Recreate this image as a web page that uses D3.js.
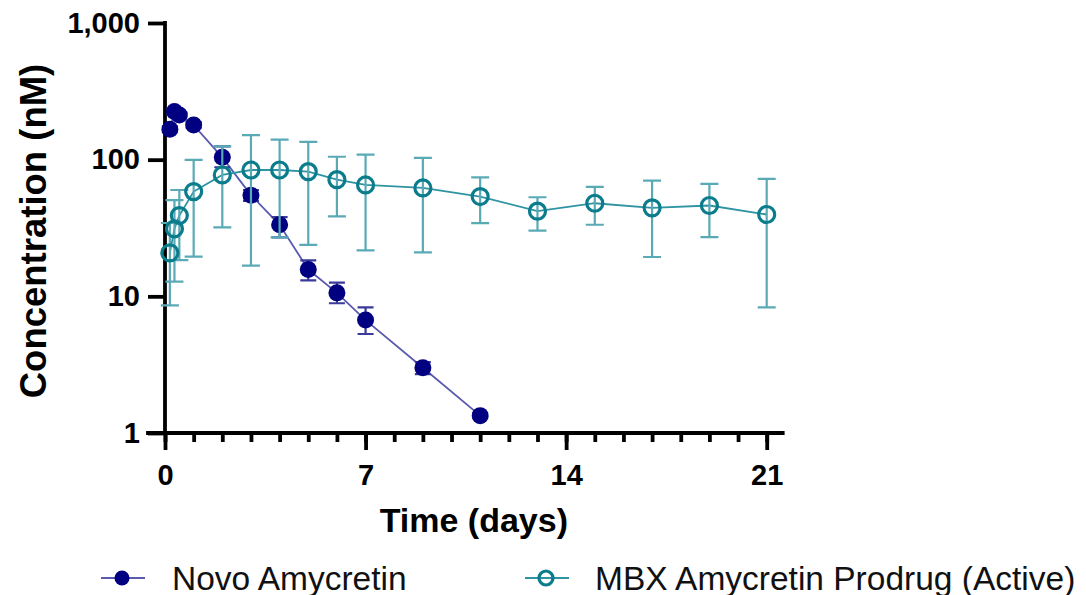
<!DOCTYPE html>
<html>
<head>
<meta charset="utf-8">
<script src="https://cdn.jsdelivr.net/npm/d3@7"></script>
<style>
  body { margin: 0; background: #fff; }
  svg { display: block; }
  text { font-family: "Liberation Sans", Arial, sans-serif; }
</style>
</head>
<body>
<div id="chart"></div>
<script>
//-- Data
var novo_name = 'Novo Amycretin';
var novo_day  = [0.17, 0.33, 0.5, 1, 2, 3, 4, 5, 6, 7, 9, 11];
var novo_mean = [167, 225, 212, 179, 104, 55, 33.4, 15.7, 10.6, 6.7, 3.0, 1.34];
var novo_lo   = [160, 215, 205, 170, 88, 50, 27, 13.1, 8.9, 5.3, 2.7, 1.3];
var novo_hi   = [175, 235, 220, 188, 125, 60, 38, 18.3, 12.6, 8.3, 3.3, 1.4];

var mbx_name = 'MBX Amycretin Prodrug (Active)';
var mbx_day  = [0.17, 0.33, 0.5, 1, 2, 3, 4, 5, 6, 7, 9, 11, 13, 15, 17, 19, 21];
var mbx_mean = [20.8, 31.2, 39, 58.4, 77.3, 84, 84, 81.7, 71.4, 65.3, 62.1, 53.7, 42, 48, 44.4, 46.2, 39.7];
var mbx_lo   = [8.6, 12.8, 18.4, 19.5, 32, 16.8, 27, 23.8, 38.4, 21.7, 21, 34.3, 30.3, 33.4, 19.4, 27.1, 8.3];
var mbx_hi   = [34.4, 50.6, 60, 99.6, 125, 151, 140, 135, 105, 109, 103, 74.3, 53.1, 63.3, 70.3, 66.5, 72.3];

var x_major = [0, 7, 14, 21];
var x_minor = d3.range(0, 22);
var y_ticks = [1, 10, 100, 1000];
var x_title = 'Time (days)';
var y_title = 'Concentration (nM)';

function PK_Make_Canvas(wrap) {
  var tot_width = 1086;
  var tot_height = 595;
  var margin = {left: 165, right: 319, top: 23, bottom: 162};

  var svg = d3.select(wrap.id)
    .append("svg")
      .attr("width", tot_width)
      .attr("height", tot_height)
      .attr("viewBox", "0 0 " + tot_width + " " + tot_height);

  svg.append("rect")
    .attr("width", tot_width)
    .attr("height", tot_height)
    .attr("fill", "white");

  wrap.svg = svg;
  wrap.margin = margin;
  wrap.width = tot_width - margin.left - margin.right;
  wrap.height = tot_height - margin.top - margin.bottom;
  wrap.tot_width = tot_width;
  wrap.tot_height = tot_height;
}

function PK_Format_Data(day, mean, lo, hi) {
  var out = [];
  for (var i=0; i<day.length; i++) {
    out.push({day: day[i], mean: mean[i], lo: lo[i], hi: hi[i]});
  }
  return out;
}

function PK_Draw_Series(wrap, data, style) {
  var x = wrap.x, y = wrap.y;
  var g = wrap.svg.append("g");

  //-- Connecting line
  g.append("path")
    .datum(data)
    .attr("fill", "none")
    .attr("stroke", style.line)
    .attr("stroke-width", 1.8)
    .attr("d", d3.line()
      .x(function (d) {return x(d.day);})
      .y(function (d) {return y(d.mean);}));

  //-- Error bars
  g.selectAll(".ebar")
    .data(data)
    .enter()
    .append("path")
      .attr("class", "ebar")
      .attr("fill", "none")
      .attr("stroke", style.err)
      .attr("stroke-width", 2.2)
      .attr("d", function (d) {
        var cx = x(d.day), c = style.cap;
        return "M" + cx + "," + y(d.lo) + "V" + y(d.hi)
          + "M" + (cx-c) + "," + y(d.hi) + "H" + (cx+c)
          + "M" + (cx-c) + "," + y(d.lo) + "H" + (cx+c);
      });

  //-- Markers
  g.selectAll(".marker")
    .data(data)
    .enter()
    .append("circle")
      .attr("class", "marker")
      .attr("cx", function (d) {return x(d.day);})
      .attr("cy", function (d) {return y(d.mean);})
      .attr("r", style.r)
      .attr("fill", style.fill)
      .attr("stroke", style.stroke)
      .attr("stroke-width", style.sw);
}

function PK_initialize(wrap) {
  var m = wrap.margin;

  var x = d3.scaleLinear()
    .domain([0, 21])
    .range([m.left, m.left + 601.7]);

  var y = d3.scaleLog()
    .domain([1, 1000])
    .range([m.top + wrap.height, m.top]);

  wrap.x = x;
  wrap.y = y;

  var ax_w = 3.8;
  var y0 = y(1);

  //-- x-axis minor ticks
  wrap.svg.append("g")
    .attr("transform", "translate(0," + y0 + ")")
    .call(d3.axisBottom(x).tickValues(x_minor).tickSize(9).tickFormat(""))
    .call(function (g) {g.select(".domain").remove();})
    .selectAll("line")
      .attr("stroke", "#000")
      .attr("stroke-width", ax_w);

  //-- x-axis major ticks + labels
  var xa = wrap.svg.append("g")
    .attr("transform", "translate(0," + y0 + ")")
    .call(d3.axisBottom(x).tickValues(x_major).tickSize(17).tickPadding(14).tickFormat(d3.format("d")));
  xa.select(".domain").remove();
  xa.selectAll("line").attr("stroke", "#000").attr("stroke-width", ax_w);
  xa.selectAll("text")
    .attr("fill", "#000")
    .style("font-size", "29px")
    .style("font-weight", "bold");

  //-- x-axis line
  wrap.svg.append("line")
    .attr("x1", x(0) - 17)
    .attr("x2", x(21) + 16)
    .attr("y1", y0)
    .attr("y2", y0)
    .attr("stroke", "#000")
    .attr("stroke-width", ax_w)
    .attr("stroke-linecap", "square");

  //-- y-axis
  var ya = wrap.svg.append("g")
    .attr("transform", "translate(" + x(0) + ",0)")
    .call(d3.axisLeft(y).tickValues(y_ticks).tickSize(17).tickPadding(8).tickFormat(d3.format(",")));
  ya.select(".domain")
    .attr("d", "M0," + y(1000) + "V" + y0)
    .attr("stroke", "#000")
    .attr("stroke-width", ax_w)
    .attr("stroke-linecap", "square");
  ya.selectAll("line").attr("stroke", "#000").attr("stroke-width", ax_w);
  ya.selectAll("text")
    .attr("fill", "#000")
    .style("font-size", "29px")
    .style("font-weight", "bold");

  //-- Axis titles
  wrap.svg.append("text")
    .attr("x", (x(0) + x(21) + 16) / 2)
    .attr("y", 532)
    .attr("text-anchor", "middle")
    .style("font-size", "34px")
    .style("font-weight", "bold")
    .text(x_title);

  wrap.svg.append("text")
    .attr("transform", "translate(46," + ((y(1) + y(1000)) / 2 + 3) + ") rotate(-90)")
    .attr("text-anchor", "middle")
    .style("font-size", "36.5px")
    .style("font-weight", "bold")
    .text(y_title);
}

function PK_Legend(wrap, items) {
  var ly = 578;
  var g = wrap.svg.append("g");
  items.forEach(function (it) {
    g.append("line")
      .attr("x1", it.x0).attr("x2", it.x0 + 44)
      .attr("y1", ly).attr("y2", ly)
      .attr("stroke", it.style.line)
      .attr("stroke-width", 2.2);
    g.append("circle")
      .attr("cx", it.x0 + 21).attr("cy", ly)
      .attr("r", it.style.r - 1)
      .attr("fill", it.style.fill)
      .attr("stroke", it.style.stroke)
      .attr("stroke-width", it.style.sw);
    g.append("text")
      .attr("x", it.tx)
      .attr("y", ly)
      .attr("dominant-baseline", "central")
      .style("font-size", "33.5px")
      .attr("fill", "#111")
      .text(it.name);
  });
}

var novo_style = {line: "#5a5ab0", err: "#3a3a9a", fill: "#000080", stroke: "#000080", sw: 0, r: 8.5, cap: 8};
var mbx_style = {line: "#2f93a2", err: "#5aaab6", fill: "none", stroke: "#0b7c8c", sw: 3.2, r: 8, cap: 9};

var wrap = {id: "#chart"};
PK_Make_Canvas(wrap);
PK_initialize(wrap);
PK_Draw_Series(wrap, PK_Format_Data(novo_day, novo_mean, novo_lo, novo_hi), novo_style);
PK_Draw_Series(wrap, PK_Format_Data(mbx_day, mbx_mean, mbx_lo, mbx_hi), mbx_style);
PK_Legend(wrap, [
  {name: novo_name, style: novo_style, x0: 101, tx: 172},
  {name: mbx_name, style: mbx_style, x0: 525, tx: 595}
]);
</script>
</body>
</html>
